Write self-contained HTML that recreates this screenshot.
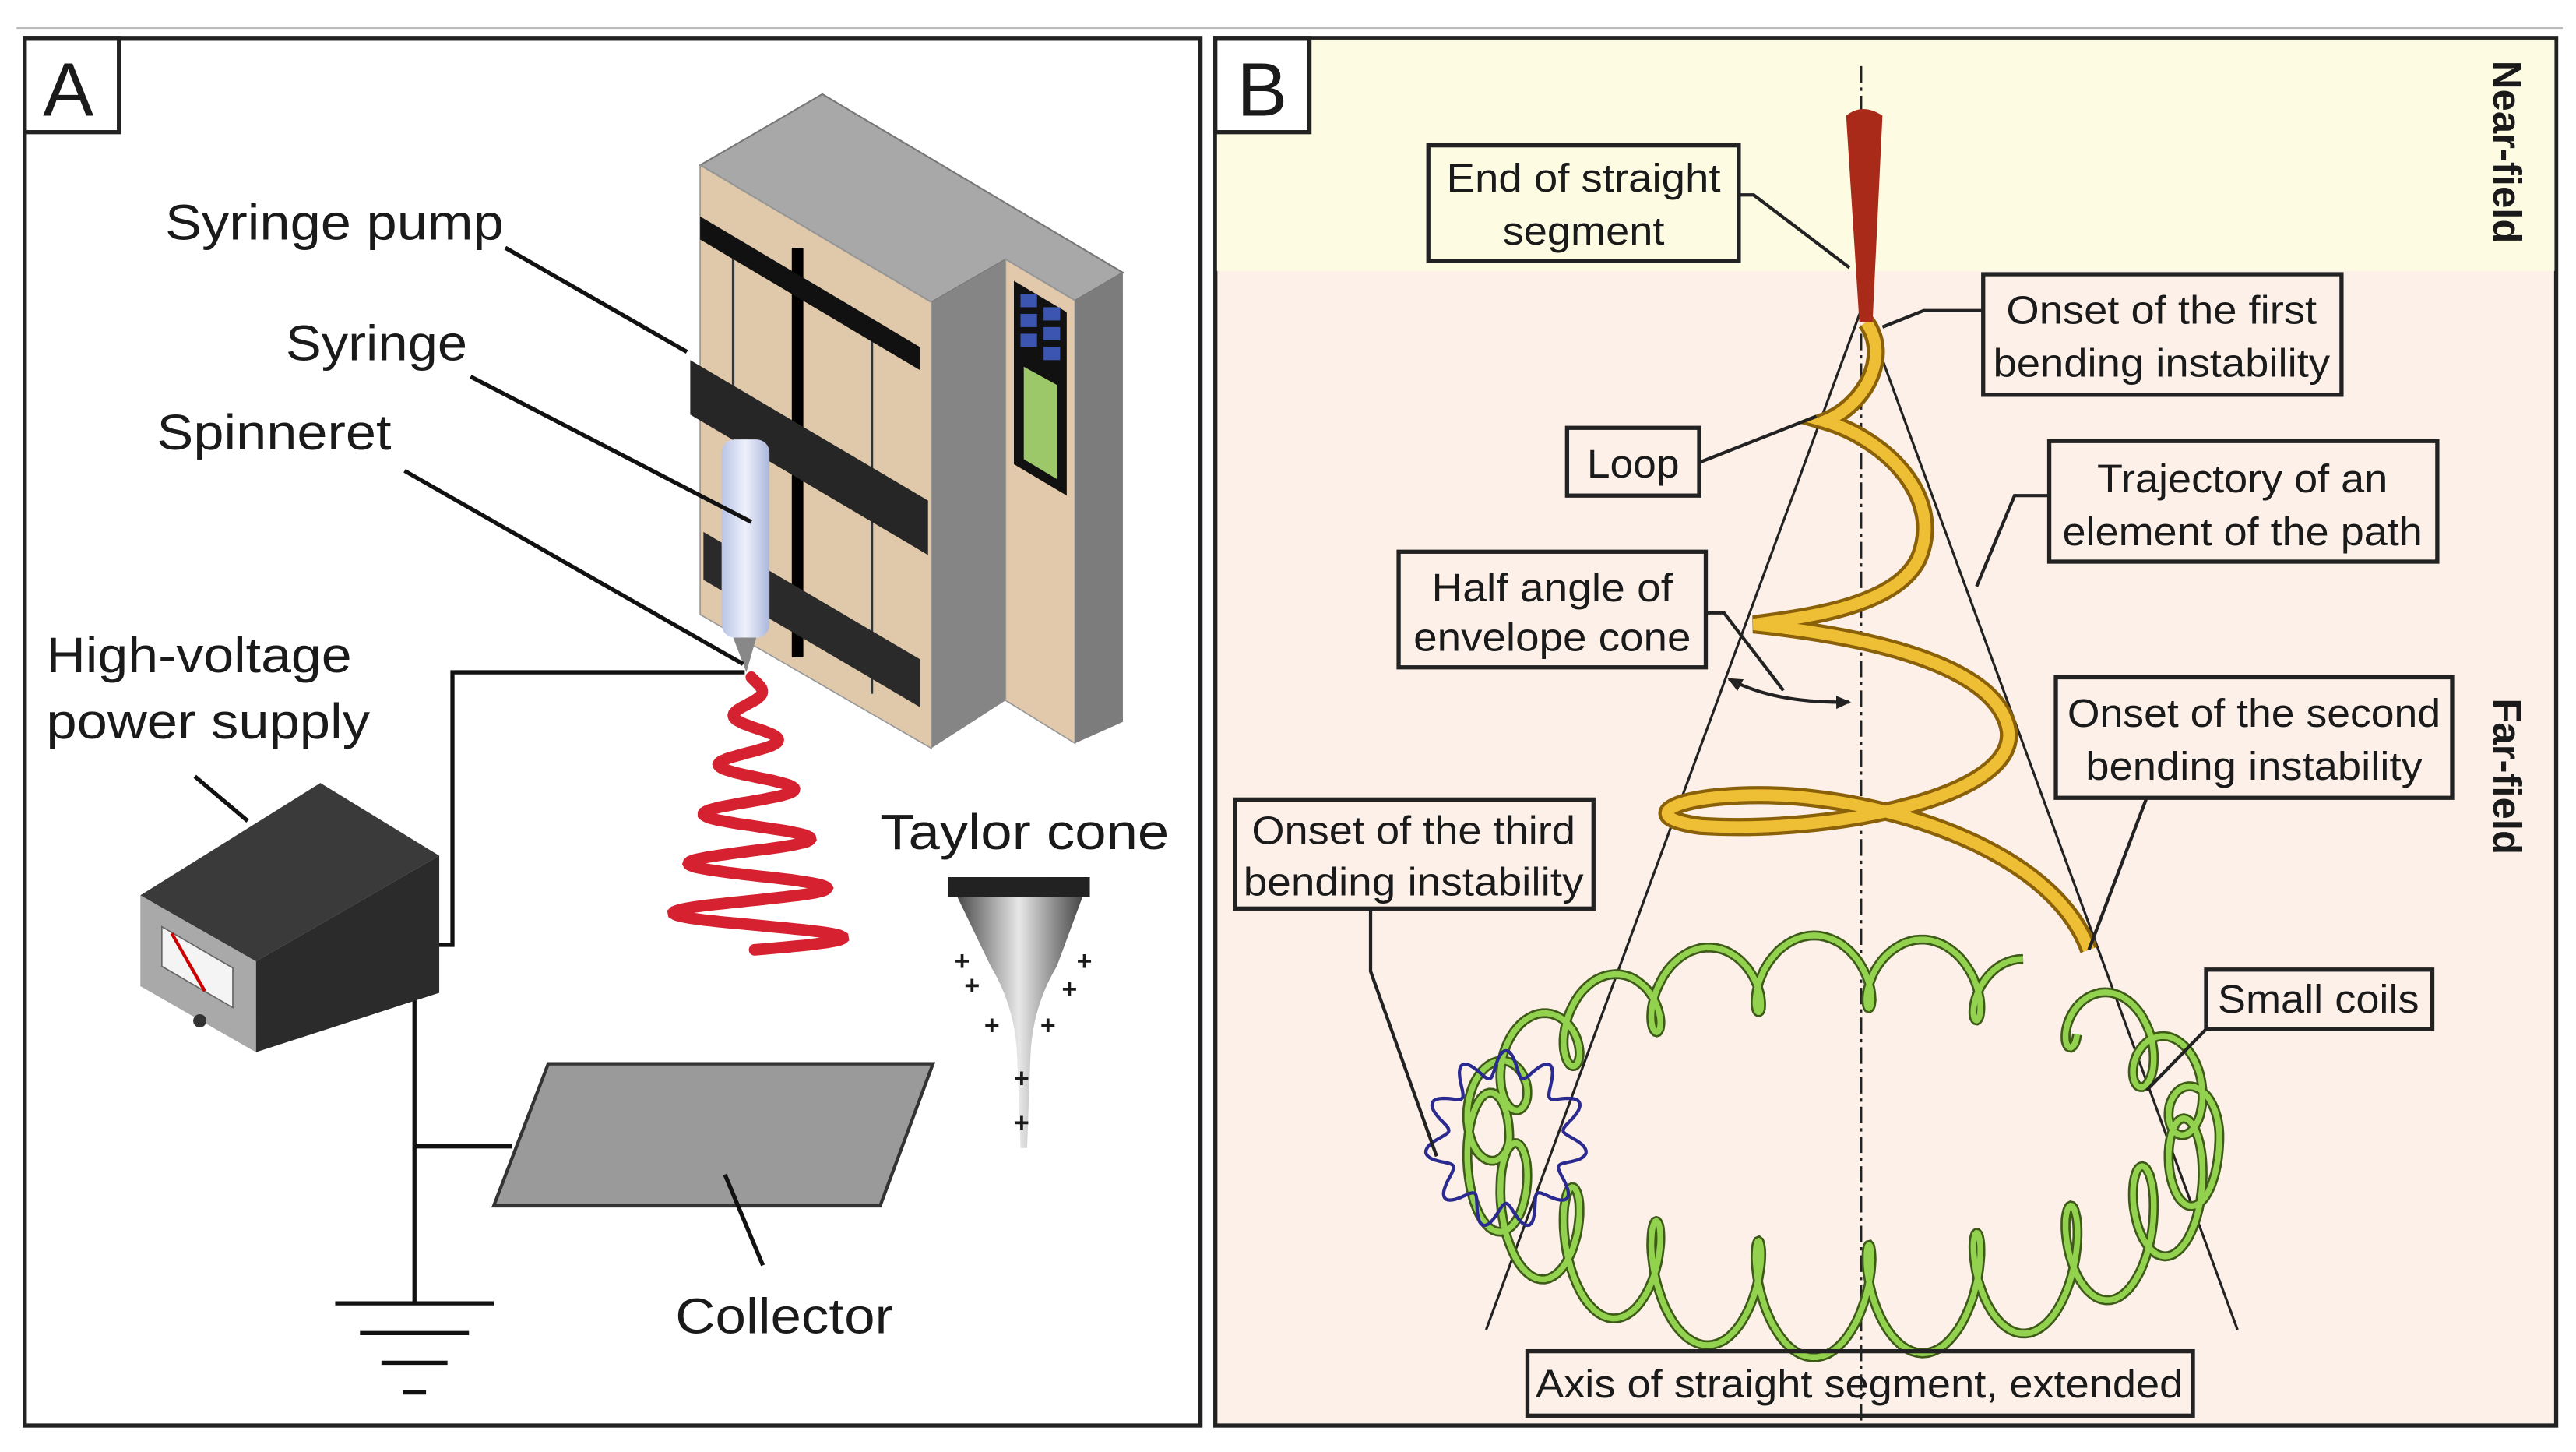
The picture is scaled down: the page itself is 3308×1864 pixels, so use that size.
<!DOCTYPE html>
<html><head><meta charset="utf-8"><style>
html,body{margin:0;padding:0;background:#fff;}
svg{display:block;}
text{font-family:"Liberation Sans",Arial,sans-serif;fill:#1a1a1a;}
</style></head><body>
<svg id="s" width="3308" height="1864" viewBox="0 0 1560 879" xmlns="http://www.w3.org/2000/svg">
<defs>
<linearGradient id="tc" x1="0" y1="0" x2="1" y2="0">
<stop offset="0" stop-color="#333"/><stop offset="0.5" stop-color="#e8e8e8"/><stop offset="1" stop-color="#333"/>
</linearGradient>
<linearGradient id="syr" x1="0" y1="0" x2="1" y2="0">
<stop offset="0" stop-color="#b8c4e6"/><stop offset="0.5" stop-color="#eef1fb"/><stop offset="1" stop-color="#aab6dc"/>
</linearGradient>
<marker id="ah" markerWidth="10" markerHeight="10" refX="8" refY="5" orient="auto" markerUnits="userSpaceOnUse"><path d="M0,1 L9,5 L0,9 z" fill="#222"/></marker>
<marker id="ah2" markerWidth="10" markerHeight="10" refX="2" refY="5" orient="auto" markerUnits="userSpaceOnUse"><path d="M10,1 L1,5 L10,9 z" fill="#222"/></marker>
</defs>
<rect width="1560" height="879" fill="#fff"/>
<line x1="10" y1="17" x2="1552" y2="17" stroke="#bbb" stroke-width="1"/>

<!-- PANEL A -->
<rect x="15" y="23" width="712" height="840" fill="#fff" stroke="#222" stroke-width="2.5"/>
<rect x="15" y="23" width="57" height="57" fill="#fff" stroke="#222" stroke-width="2.5"/>
<text x="26" y="70" font-size="46">A</text>

<!-- pump -->
<polygon points="424,100 498,57 680,165 651,182 609,157 564,183" fill="#a8a8a8" stroke="#777" stroke-width="1"/>
<polygon points="564,183 609,157 609,424 564,453" fill="#858585"/>
<polygon points="609,157 651,182 651,450 609,424" fill="#e2c9ab" stroke="#999" stroke-width="0.8"/>
<polygon points="651,182 680,165 680,437 651,450" fill="#7c7c7c"/>
<polygon points="424,100 564,183 564,453 424,372" fill="#e0c8aa" stroke="#999" stroke-width="0.8"/>
<line x1="444" y1="150" x2="444" y2="370" stroke="#333" stroke-width="1.5"/>
<line x1="528" y1="200" x2="528" y2="420" stroke="#333" stroke-width="1.5"/>
<line x1="483" y1="150" x2="483" y2="398" stroke="#000" stroke-width="7"/>
<polygon points="424,131 557,210 557,224 424,145" fill="#111"/>
<polygon points="418,218 562,303 562,336 418,251" fill="#262626"/>
<polygon points="426,322 557,399 557,428 426,351" fill="#2a2a2a"/>
<polygon points="614,170 646,189 646,300 614,281" fill="#111"/>
<g fill="#3b55b0"><rect x="618" y="178" width="10" height="8"/><rect x="632" y="186" width="10" height="8"/><rect x="618" y="190" width="10" height="8"/><rect x="632" y="198" width="10" height="8"/><rect x="618" y="202" width="10" height="8"/><rect x="632" y="210" width="10" height="8"/></g>
<polygon points="620,222 640,233 640,290 620,278" fill="#9cc86a"/>
<rect x="437" y="266" width="29" height="120" rx="8" fill="url(#syr)"/>
<polygon points="444,386 458,386 452,407" fill="#888"/>

<!-- labels A -->
<text x="100" y="145" font-size="30" textLength="205" lengthAdjust="spacingAndGlyphs">Syringe pump</text>
<line x1="306" y1="150" x2="416" y2="213" stroke="#111" stroke-width="2.5"/>
<text x="173" y="218" font-size="30" textLength="110" lengthAdjust="spacingAndGlyphs">Syringe</text>
<line x1="285" y1="228" x2="455" y2="316" stroke="#111" stroke-width="2.5"/>
<text x="95" y="272" font-size="30" textLength="142" lengthAdjust="spacingAndGlyphs">Spinneret</text>
<line x1="245" y1="285" x2="450" y2="402" stroke="#111" stroke-width="2.5"/>
<text x="28" y="407" font-size="30" textLength="185" lengthAdjust="spacingAndGlyphs">High-voltage</text>
<text x="28" y="447" font-size="30" textLength="196" lengthAdjust="spacingAndGlyphs">power supply</text>
<line x1="118" y1="470" x2="150" y2="497" stroke="#111" stroke-width="2.5"/>

<!-- wires -->
<polyline points="451,407 274,407 274,572 241,572" fill="none" stroke="#111" stroke-width="2.5"/>
<polyline points="209,592 251,592 251,789" fill="none" stroke="#111" stroke-width="2.5"/>
<line x1="251" y1="694" x2="310" y2="694" stroke="#111" stroke-width="2.5"/>
<line x1="203" y1="789" x2="299" y2="789" stroke="#111" stroke-width="2.5"/>
<line x1="218" y1="807" x2="284" y2="807" stroke="#111" stroke-width="2.5"/>
<line x1="231" y1="825" x2="271" y2="825" stroke="#111" stroke-width="2.5"/>
<line x1="244" y1="843" x2="258" y2="843" stroke="#111" stroke-width="2.5"/>

<!-- power box -->
<polygon points="85,542 194,474 266,518 155,582" fill="#3a3a3a"/>
<polygon points="155,582 266,518 266,601 155,637" fill="#2b2b2b"/>
<polygon points="85,542 155,582 155,637 85,597" fill="#a9a9a9"/>
<polygon points="98,561 141,586 141,610 98,585" fill="#f4f4f4" stroke="#666" stroke-width="0.8"/>
<line x1="104" y1="565" x2="124" y2="600" stroke="#c00" stroke-width="2"/>
<circle cx="121" cy="618" r="4" fill="#333"/>

<!-- collector -->
<polygon points="332,644 565,644 533,730 299,730" fill="#9a9a9a" stroke="#333" stroke-width="2"/>
<line x1="439" y1="711" x2="462" y2="766" stroke="#111" stroke-width="2.5"/>
<text x="409" y="807" font-size="30" textLength="132" lengthAdjust="spacingAndGlyphs">Collector</text>

<!-- taylor cone -->
<text x="533" y="514" font-size="30" textLength="175" lengthAdjust="spacingAndGlyphs">Taylor cone</text>
<path d="M574,531 L660,531 L640,585 Q625,610 624,640 L622,695 L618,695 L616,640 Q615,610 600,585 Z" fill="url(#tc)"/>
<rect x="574" y="531" width="86" height="12" fill="#222"/>
<g font-size="16" fill="#333" font-weight="bold"><text x="578" y="587">+</text><text x="652" y="587">+</text><text x="584" y="602">+</text><text x="643" y="604">+</text><text x="596" y="626">+</text><text x="630" y="626">+</text><text x="614" y="658">+</text><text x="614" y="685">+</text></g>

<!-- red jet -->
<path id="redjet" fill="none" stroke="#d31525" stroke-width="7" stroke-linecap="round" opacity="0.95"/>

<!-- PANEL B -->
<rect x="736" y="23" width="812" height="840" fill="#fcf0e8" stroke="#222" stroke-width="2.5"/>
<rect x="737" y="24" width="810" height="140" fill="#fdfbe2"/>
<rect x="736" y="23" width="57" height="57" fill="#fff" stroke="#222" stroke-width="2.5"/>
<text x="749" y="70" font-size="46">B</text>
<text transform="translate(1510,92) rotate(90)" text-anchor="middle" font-size="24" font-weight="bold">Near-field</text>
<text transform="translate(1510,470) rotate(90)" text-anchor="middle" font-size="24" font-weight="bold">Far-field</text>

<line x1="1127" y1="40" x2="1127" y2="860" stroke="#222" stroke-width="1.5" stroke-dasharray="10,3,2,3"/>
<line x1="1128" y1="185" x2="900" y2="805" stroke="#222" stroke-width="1.5"/>
<line x1="1128" y1="185" x2="1355" y2="805" stroke="#222" stroke-width="1.5"/>

<!-- green coil -->
<path id="gcoilD" fill="none" stroke="#3e5a18" stroke-width="6"/>
<path id="gcoil" fill="none" stroke="#92d24e" stroke-width="3.5"/>
<path id="bcoil" fill="none" stroke="#2a2a90" stroke-width="2"/>

<!-- yellow helix -->
<path d="M1130,195 C1145,215 1130,245 1105,255 C1140,265 1178,300 1162,338 C1148,368 1090,374 1062,378 C1100,382 1205,395 1216,440 C1226,482 1110,505 1030,500 C985,494 1020,478 1085,482 C1160,488 1245,520 1265,575" fill="none" stroke="#8a6008" stroke-width="11"/>
<path d="M1130,195 C1145,215 1130,245 1105,255 C1140,265 1178,300 1162,338 C1148,368 1090,374 1062,378 C1100,382 1205,395 1216,440 C1226,482 1110,505 1030,500 C985,494 1020,478 1085,482 C1160,488 1245,520 1265,575" fill="none" stroke="#eebe35" stroke-width="7"/>
<path d="M1118,70 Q1128,62 1140,70 L1134,195 L1126,195 Z" fill="#a92a18"/>

<!-- label boxes -->
<g fill="none" stroke="#222" stroke-width="2.5">
<rect x="865" y="88" width="188" height="70"/>
<rect x="1201" y="166" width="217" height="73"/>
<rect x="949" y="259" width="80" height="41"/>
<rect x="1241" y="267" width="235" height="73"/>
<rect x="847" y="334" width="186" height="70"/>
<rect x="1245" y="410" width="240" height="73"/>
<rect x="748" y="484" width="217" height="66"/>
<rect x="1336" y="587" width="137" height="36"/>
<rect x="925" y="818" width="403" height="39"/>
</g>
<g fill="none" stroke="#222" stroke-width="2">
<polyline points="1053,118 1062,118 1120,162"/>
<polyline points="1201,188 1165,188 1140,198"/>
<polyline points="1029,280 1100,252"/>
<polyline points="1241,300 1220,300 1197,355"/>
<polyline points="1033,371 1044,371 1080,418"/>
<polyline points="1300,483 1265,575"/>
<polyline points="830,550 830,588 870,700"/>
<polyline points="1336,623 1300,660"/>
</g>
<path d="M1047,411 Q1075,426 1120,425" fill="none" stroke="#222" stroke-width="2" marker-end="url(#ah)" marker-start="url(#ah2)"/>

<g font-size="24" text-anchor="middle" lengthAdjust="spacingAndGlyphs">
<text x="959" y="116" textLength="166" lengthAdjust="spacingAndGlyphs">End of straight</text><text x="959" y="148" textLength="98" lengthAdjust="spacingAndGlyphs">segment</text>
<text x="1309" y="196" textLength="188" lengthAdjust="spacingAndGlyphs">Onset of the first</text><text x="1309" y="228" textLength="204" lengthAdjust="spacingAndGlyphs">bending instability</text>
<text x="989" y="289" textLength="56" lengthAdjust="spacingAndGlyphs">Loop</text>
<text x="1358" y="298" textLength="176" lengthAdjust="spacingAndGlyphs">Trajectory of an</text><text x="1358" y="330" textLength="218" lengthAdjust="spacingAndGlyphs">element of the path</text>
<text x="940" y="364" textLength="146" lengthAdjust="spacingAndGlyphs">Half angle of</text><text x="940" y="394" textLength="168" lengthAdjust="spacingAndGlyphs">envelope cone</text>
<text x="1365" y="440" textLength="226" lengthAdjust="spacingAndGlyphs">Onset of the second</text><text x="1365" y="472" textLength="204" lengthAdjust="spacingAndGlyphs">bending instability</text>
<text x="856" y="511" textLength="196" lengthAdjust="spacingAndGlyphs">Onset of the third</text><text x="856" y="542" textLength="206" lengthAdjust="spacingAndGlyphs">bending instability</text>
<text x="1404" y="613" textLength="122" lengthAdjust="spacingAndGlyphs">Small coils</text>
<text x="1126" y="846" textLength="392" lengthAdjust="spacingAndGlyphs">Axis of straight segment, extended</text>
</g>
</svg>
<script>
(function(){
 var d="";
 for(var i=0;i<=300;i++){var t=i/300;var y=410+t*165;var amp=4+t*52;var x=455+amp*Math.sin(t*Math.PI*2*5.5)+t*2;d+=(i?"L":"M")+x.toFixed(1)+","+y.toFixed(1);}
 document.getElementById("redjet").setAttribute("d",d);
 var g="";var N=900;
 for(var i=0;i<=N;i++){var t=-0.9+i/N*Math.PI*2*0.98;var cx=1115,cy=688,Rx=215,Ry=100;
  var x=cx+Rx*Math.cos(t)+14*Math.cos(t*20);var y=cy+Ry*Math.sin(t)+ (Math.sin(t)>0?34:22)*Math.sin(t*20);
  g+=(i?"L":"M")+x.toFixed(1)+","+y.toFixed(1);}
 document.getElementById("gcoil").setAttribute("d",g);
 document.getElementById("gcoilD").setAttribute("d",g);
 var b="";
 for(var i=0;i<=300;i++){var t=i/300*Math.PI*2;var r=42+7*Math.sin(t*11);var x=912+r*Math.cos(t);var y=690+r*1.1*Math.sin(t);b+=(i?"L":"M")+x.toFixed(1)+","+y.toFixed(1);}
 document.getElementById("bcoil").setAttribute("d",b);
})();
</script>
</body></html>
